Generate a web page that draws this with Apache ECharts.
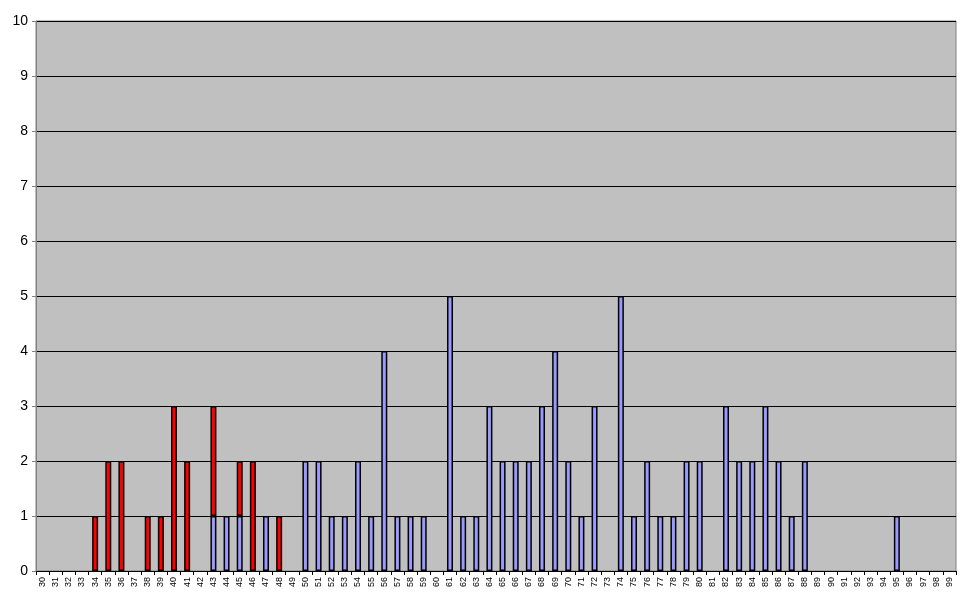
<!DOCTYPE html>
<html><head><meta charset="utf-8">
<script src="https://cdn.jsdelivr.net/npm/echarts@6/dist/echarts.min.js"></script>
<style>html,body{margin:0;padding:0;background:#fff}#c{width:971px;height:600px}</style>
</head><body><div id="c"></div>
<script>
var categories = [];
for (var k = 30; k <= 99; k++) categories.push(String(k));
var blueVals = {43:1,44:1,45:1,47:1,50:2,51:2,52:1,53:1,54:2,55:1,56:4,57:1,58:1,59:1,61:5,62:1,63:1,64:3,65:2,66:2,67:2,68:3,69:4,70:2,71:1,72:3,74:5,75:1,76:2,77:1,78:1,79:2,80:2,82:3,83:2,84:2,85:3,86:2,87:1,88:2,95:1};
var redVals = {34:1,35:2,36:2,38:1,39:1,40:3,41:2,43:2,45:1,46:2,48:1};
var blueSeries = categories.map(function(c){ return blueVals[c] !== undefined ? blueVals[c] : null; });
var redSeries = categories.map(function(c){ return redVals[c] !== undefined ? redVals[c] : null; });
var yTicks = [0,1,2,3,4,5,6,7,8,9,10];

var chart = echarts.init(document.getElementById('c'));
chart.setOption({
  animation: false,
  grid: {left: 36, right: 15, top: 21, bottom: 29, show: true, backgroundColor: '#C0C0C0', borderColor: '#808080', borderWidth: 1},
  xAxis: {
    type: 'category', data: categories,
    axisLine: {lineStyle: {color: '#000', width: 1}},
    axisTick: {show: true, alignWithLabel: false, length: 4, lineStyle: {color: '#000'}},
    axisLabel: {rotate: 90, fontSize: 9, color: '#000', fontFamily: 'Arial, Liberation Sans', interval: 0, margin: 6}
  },
  yAxis: {
    type: 'value', min: 0, max: 10, interval: 1,
    axisLine: {show: true, lineStyle: {color: '#808080'}},
    axisTick: {show: true, length: 4, lineStyle: {color: '#808080'}},
    axisLabel: {fontSize: 14, color: '#000', fontFamily: 'Arial, Liberation Sans', margin: 8},
    splitLine: {show: true, lineStyle: {color: '#000', width: 1}}
  },
  series: [
    {type: 'bar', stack: 's', data: blueSeries, barWidth: 6, itemStyle: {color: '#9999FF', borderColor: '#000', borderWidth: 1.5}},
    {type: 'bar', stack: 's', data: redSeries, barWidth: 6, itemStyle: {color: '#FF0000', borderColor: '#000', borderWidth: 1.5}}
  ]
});
</script></body></html>
